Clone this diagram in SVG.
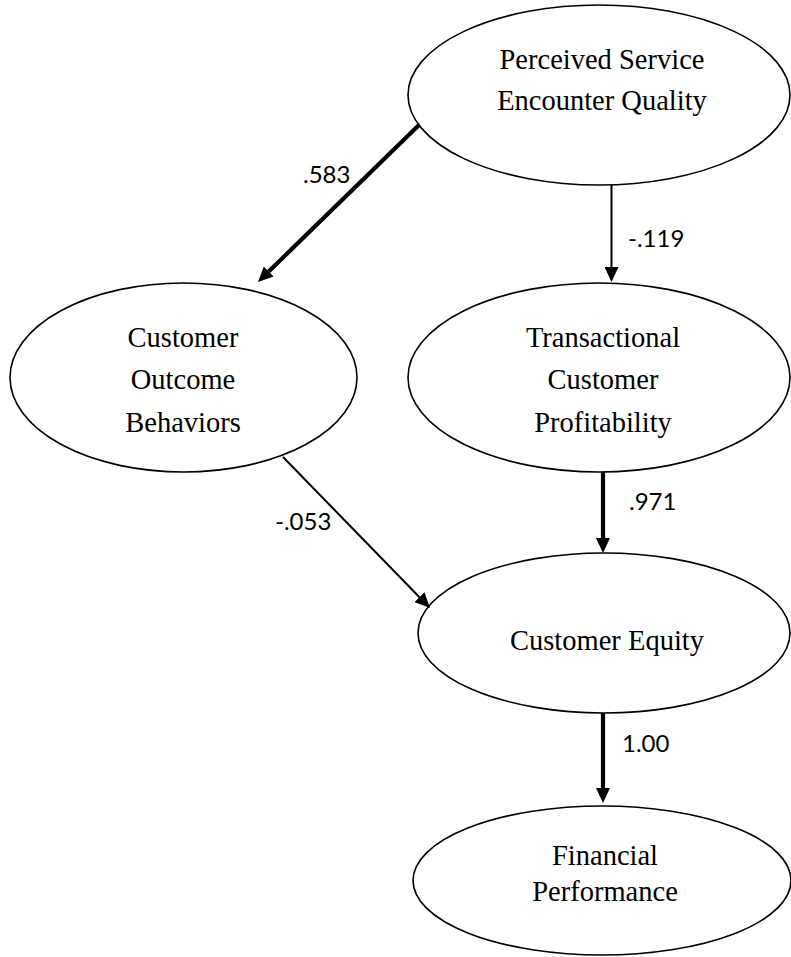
<svg xmlns="http://www.w3.org/2000/svg" width="791" height="957" viewBox="0 0 791 957">
<style>
.node ellipse{fill:#fff;stroke:#000;stroke-width:1.6}
.node text{font-family:"Liberation Serif","Times New Roman",serif;font-size:28.5px;fill:#000;text-anchor:middle}
.edge{stroke:#000;fill:none}
.thin{stroke-width:2}
.thick{stroke-width:4.2}
.lbl{font-family:Lato,"Open Sans","Liberation Sans",sans-serif;font-size:24px;fill:#000}
</style>
<defs>
<marker id="ah" markerUnits="userSpaceOnUse" markerWidth="15" markerHeight="14" viewBox="0 0 15 14" refX="0" refY="7" orient="auto">
<path d="M0,0 L15,7 L0,14 z" fill="#000"/>
</marker>
</defs>
<rect width="791" height="957" fill="#fff"/>
<g id="n-psq" class="node">
<ellipse cx="599" cy="95" rx="191" ry="90"/>
<text x="602" y="69">Perceived Service</text>
<text x="602" y="110">Encounter Quality</text>
</g>
<g id="n-cob" class="node">
<ellipse cx="183.5" cy="377.5" rx="173.5" ry="94.5"/>
<text x="183" y="347">Customer</text>
<text x="183" y="389">Outcome</text>
<text x="183" y="432">Behaviors</text>
</g>
<g id="n-tcp" class="node">
<ellipse cx="599" cy="377.5" rx="191" ry="94.5"/>
<text x="603" y="347">Transactional</text>
<text x="603" y="389">Customer</text>
<text x="603" y="432">Profitability</text>
</g>
<g id="n-ce" class="node">
<ellipse cx="604" cy="633" rx="186" ry="80"/>
<text x="607" y="650">Customer Equity</text>
</g>
<g id="n-fp" class="node">
<ellipse cx="602" cy="880.5" rx="189" ry="74.5"/>
<text x="605" y="865">Financial</text>
<text x="605" y="901">Performance</text>
</g>
<g id="connectors">
<line class="edge thick" x1="419" y1="125" x2="268.7" y2="271.5" marker-end="url(#ah)"/>
<line class="edge thin" x1="611.5" y1="185" x2="611.5" y2="267" marker-end="url(#ah)"/>
<line class="edge thin" x1="283" y1="457" x2="419.5" y2="597.2" marker-end="url(#ah)"/>
<line class="edge thick" x1="603" y1="472" x2="603" y2="538" marker-end="url(#ah)"/>
<line class="edge thick" x1="603" y1="713" x2="603" y2="788" marker-end="url(#ah)"/>
<text class="lbl" x="303" y="183">.583</text>
<text class="lbl" x="628" y="247">-.119</text>
<text class="lbl" x="275" y="530">-.053</text>
<text class="lbl" x="629" y="510">.971</text>
<text class="lbl" x="622" y="752">1.00</text>
</g>
</svg>
